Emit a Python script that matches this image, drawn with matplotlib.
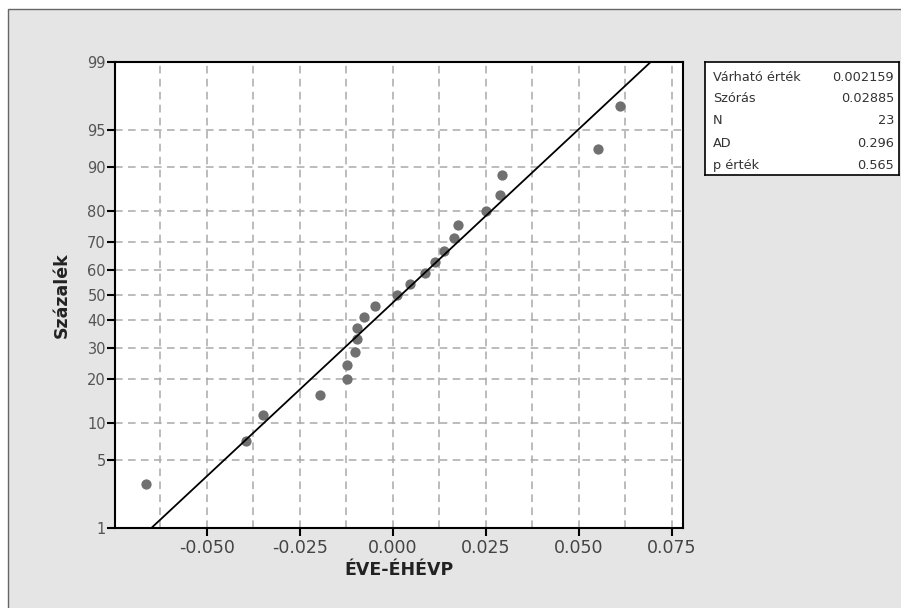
from statistics import NormalDist

import matplotlib

matplotlib.use("Agg")
import matplotlib.pyplot as plt
import numpy as np
from matplotlib.patches import Rectangle
from matplotlib.ticker import FixedLocator


# values
DIFF_VALUES = [
    -0.0664, -0.0395, -0.0349, -0.0196, -0.0124, -0.0124, -0.0102, -0.0097,
    -0.0097, -0.0078, -0.0048, 0.0011, 0.0046, 0.0086, 0.0113, 0.0137,
    0.0164, 0.0175, 0.0250, 0.0288, 0.0293, 0.0551, 0.0610,
]
PERCENT_VALUES = [
    2.99, 7.26, 11.54, 15.81, 20.09, 24.36, 28.63, 32.91, 37.18, 41.45,
    45.73, 50.00, 54.27, 58.55, 62.82, 67.09, 71.37, 75.64, 79.91, 84.19,
    88.46, 92.74, 97.01,
]
FIT_MEAN = 0.002159
FIT_SD = 0.02885
FIT_PERCENTS = [1, 99]

X_TICKS = [-0.050, -0.025, 0.000, 0.025, 0.050, 0.075]
X_GRID_MINOR = [-0.0625, -0.0375, -0.0125, 0.0125, 0.0375, 0.0625]
Y_TICKS = [1, 5, 10, 20, 30, 40, 50, 60, 70, 80, 90, 95, 99]

STAT_LABELS = ["Várható érték", "Szórás", "N", "AD", "p érték"]
STAT_VALUES = ["0.002159", "0.02885", "23", "0.296", "0.565"]

X_LABEL = "ÉVE-ÉHÉVP"
Y_LABEL = "Százalék"

W, H = 901, 608
BG = "#e5e5e5"
GRID = "#a9a9a9"
TEXT = "#444444"

_std = NormalDist()
_inv_cdf = np.vectorize(_std.inv_cdf, otypes=[float])
_cdf = np.vectorize(_std.cdf, otypes=[float])


def _pct_to_z(p):
    p = np.clip(np.asarray(p, dtype=float) / 100.0, 1e-9, 1 - 1e-9)
    return _inv_cdf(p)


def _z_to_pct(z):
    return _cdf(np.asarray(z, dtype=float)) * 100.0


def _px_axes(fig, x0, y0, x1, y1):
    return fig.add_axes([x0 / W, 1 - y1 / H, (x1 - x0) / W, (y1 - y0) / H])


def draw_stats_box(fig):
    box = _px_axes(fig, 705, 62, 899, 175)
    box.set_facecolor("white")
    box.set_xticks([])
    box.set_yticks([])
    for spine in box.spines.values():
        spine.set_color("black")
        spine.set_linewidth(1.2)
    rows_y = [0.867, 0.673, 0.478, 0.283, 0.088]
    for yy, label, value in zip(rows_y, STAT_LABELS, STAT_VALUES):
        box.text(0.041, yy, label, fontsize=9.3, color="#333333",
                 va="center", ha="left", transform=box.transAxes)
        box.text(0.974, yy, value, fontsize=9.3, color="#333333",
                 va="center", ha="right", transform=box.transAxes)


def main():
    fig = plt.figure(figsize=(W / 100, H / 100), dpi=100)
    fig.patch.set_facecolor("white")
    fig.patches.append(
        Rectangle((8 / W, -0.1), 1.2, 1.1 - 9 / H, transform=fig.transFigure,
                  facecolor=BG, edgecolor="#666666", linewidth=1.0, zorder=-10)
    )

    ax = _px_axes(fig, 115, 62, 683, 528)
    ax.set_facecolor("white")
    ax.set_yscale("function", functions=(_pct_to_z, _z_to_pct))
    ax.set_xlim(-0.07473, 0.07796)
    ax.set_ylim(1, 99)
    ax.set_axisbelow(True)

    ax.xaxis.set_major_locator(FixedLocator(X_TICKS))
    ax.xaxis.set_minor_locator(FixedLocator(X_GRID_MINOR))
    ax.set_xticklabels([f"{v:.3f}" for v in X_TICKS])
    ax.yaxis.set_major_locator(FixedLocator(Y_TICKS))
    ax.yaxis.set_minor_locator(FixedLocator([]))
    ax.set_yticklabels([str(v) for v in Y_TICKS])

    grid_kw = dict(color=GRID, linewidth=1.1, linestyle=(0, (5, 3.5)))
    ax.grid(True, which="both", axis="x", **grid_kw)
    ax.grid(True, which="major", axis="y", **grid_kw)

    ax.tick_params(axis="x", which="major", direction="out", length=6,
                   width=1.5, pad=2, labelsize=12.5, labelcolor=TEXT)
    ax.tick_params(axis="x", which="minor", length=0)
    ax.tick_params(axis="y", which="major", direction="out", length=6,
                   width=1.5, pad=0.5, labelsize=10.5, labelcolor="#555555")
    for spine in ax.spines.values():
        spine.set_linewidth(1.5)
        spine.set_color("black")

    fit_x = [FIT_MEAN + FIT_SD * _std.inv_cdf(p / 100.0) for p in FIT_PERCENTS]
    ax.plot(DIFF_VALUES, PERCENT_VALUES, "o", color="#707070",
            markersize=7.4, markeredgewidth=0, zorder=3)
    ax.plot(fit_x, FIT_PERCENTS, color="black", linewidth=1.3, zorder=4)

    ax.set_xlabel(X_LABEL, fontsize=12.5, fontweight="bold", color="#222222",
                  labelpad=3)
    ax.set_ylabel(Y_LABEL, fontsize=12.5, fontweight="bold", color="#222222",
                  labelpad=12)

    draw_stats_box(fig)

    fig.savefig("out.png", dpi=100)
    plt.close(fig)


if __name__ == "__main__":
    main()
